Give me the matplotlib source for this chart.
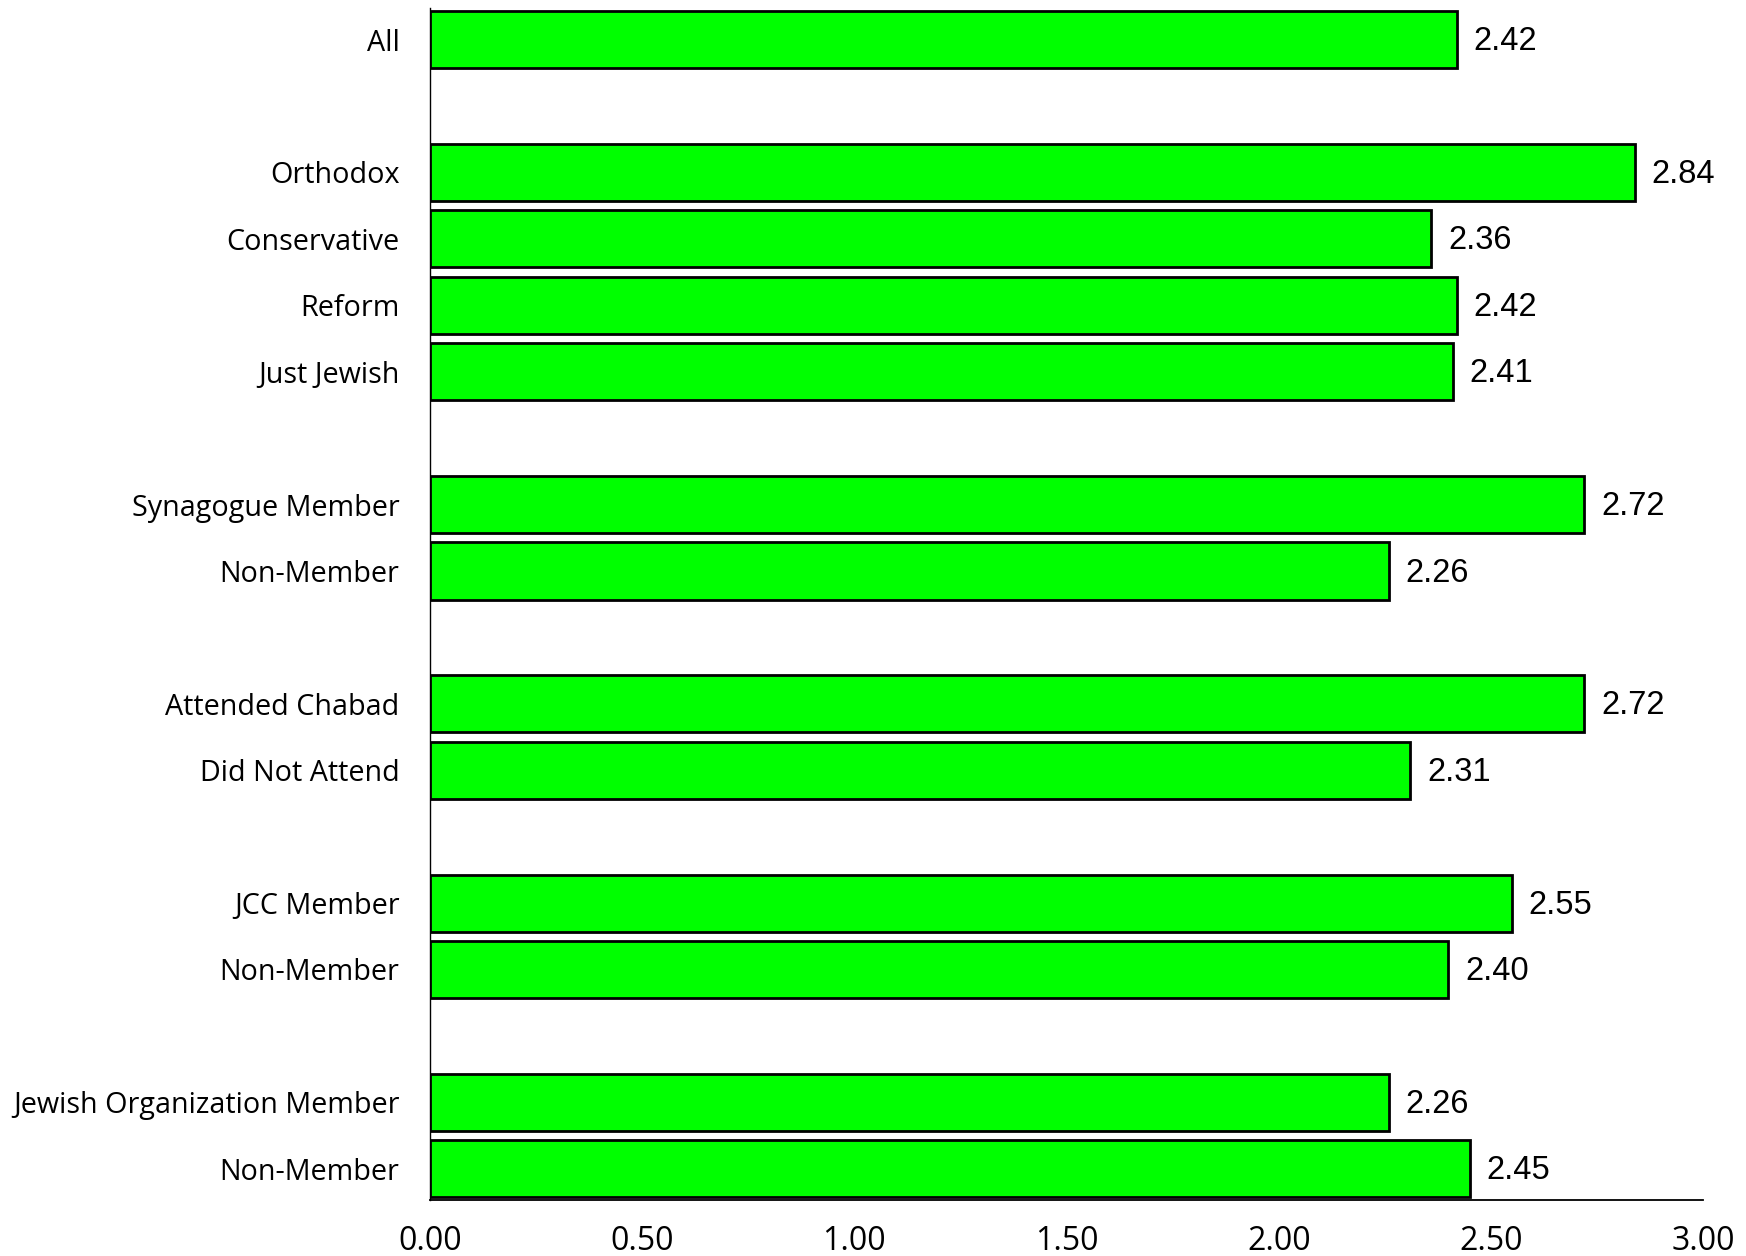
import matplotlib
matplotlib.use("Agg")
import matplotlib.pyplot as plt
import numpy as np

# Category labels, top to bottom, with slot positions leaving gaps between groups
categories = [
    "All",
    "Orthodox", "Conservative", "Reform", "Just Jewish",
    "Synagogue Member", "Non-Member",
    "Attended Chabad", "Did Not Attend",
    "JCC Member", "Non-Member",
    "Jewish Organization Member", "Non-Member",
]
positions = [0, 2, 3, 4, 5, 7, 8, 10, 11, 13, 14, 16, 17]
values = [2.42, 2.84, 2.36, 2.42, 2.41, 2.72, 2.26, 2.72, 2.31, 2.55, 2.40, 2.26, 2.45]
x_ticks = [0.0, 0.5, 1.0, 1.5, 2.0, 2.5, 3.0]
x_tick_labels = ["0.00", "0.50", "1.00", "1.50", "2.00", "2.50", "3.00"]

label_font = "Open Sans"
value_font = "Liberation Sans"

fig = plt.figure(figsize=(17.46, 12.56), dpi=100)
ax = fig.add_axes([0.2463, 0.0446, 0.7291, 0.9490])

ax.barh(positions, values, height=0.86, color="#00FF00",
        edgecolor="black", linewidth=2.0, zorder=3)

for p, v in zip(positions, values):
    ax.annotate(f"{v:.2f}", xy=(v, p), xytext=(12, -1.5), textcoords="offset points",
                ha="left", va="center", fontsize=23.5, family=value_font)

ax.set_xlim(0, 3.0)
ax.set_ylim(17.47, -0.475)

ax.set_yticks(positions)
ax.set_yticklabels(categories, fontsize=20.7, family=label_font)
ax.set_xticks(x_ticks)
ax.set_xticklabels(x_tick_labels, fontsize=23, family=label_font)
ax.tick_params(axis="y", length=0, pad=22)
ax.tick_params(axis="x", length=0, pad=18)

for side in ("top", "right"):
    ax.spines[side].set_visible(False)
ax.spines["left"].set_linewidth(1.0)
ax.spines["bottom"].set_linewidth(1.3)

fig.savefig("out.png", dpi=100)
